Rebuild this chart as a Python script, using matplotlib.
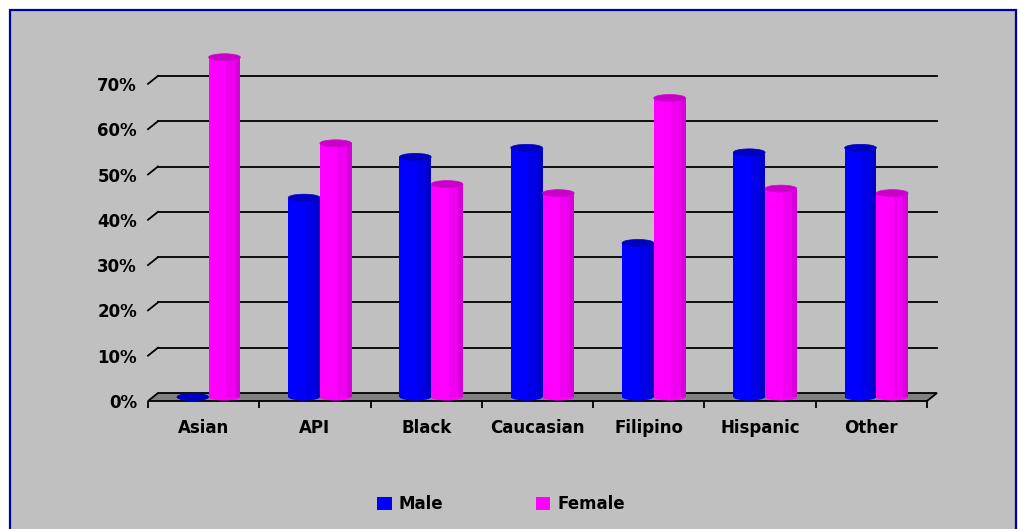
import numpy as np
import matplotlib
matplotlib.use('Agg')
import matplotlib.pyplot as plt
from matplotlib.patches import Rectangle, Ellipse, Polygon, Patch

groups = ['Asian', 'API', 'Black', 'Caucasian', 'Filipino', 'Hispanic', 'Other']
male = [0.00, 0.44, 0.53, 0.55, 0.34, 0.54, 0.55]
female = [0.75, 0.56, 0.47, 0.45, 0.66, 0.46, 0.45]
yticks = [0.0, 0.1, 0.2, 0.3, 0.4, 0.5, 0.6, 0.7]
ytick_labels = ['0%', '10%', '20%', '30%', '40%', '50%', '60%', '70%']

plt.rcParams['font.family'] = ['DejaVu Sans']
plt.rcParams['font.weight'] = 'bold'
FS = 12

W, H = 1018, 529
fig = plt.figure(figsize=(W / 100, H / 100), dpi=100)
fig.patch.set_facecolor('white')
# grey chart area with the dark blue frame
fig.patches.append(Rectangle((10 / W, -10 / H), 1006 / W, 529 / H,
                             transform=fig.transFigure, facecolor='#c0c0c0',
                             edgecolor='#0000a0', lw=1.6, zorder=-10))

px_per_unit_x = 779 / 7
px_per_unit_y = 453.0
ymax = 0.80
ax = fig.add_axes([148 / W, 128 / H, 779 / W, ymax * px_per_unit_y / H])
ax.set_facecolor('none')
ax.set_xlim(-0.5, 6.5)
ax.set_ylim(0, ymax)
for s in ax.spines.values():
    s.set_visible(False)

# depth of the fake 3d box, in data units
dx = 10 / px_per_unit_x
dy = 8 / px_per_unit_y

# back wall gridlines plus the little diagonal at the left edge
for v in yticks[1:]:
    ax.plot([-0.5 + dx, 6.5 + dx], [v + dy, v + dy], color='k', lw=1.3, zorder=1,
            clip_on=False)
    ax.plot([-0.5, -0.5 + dx], [v, v + dy], color='k', lw=1.3, zorder=1,
            clip_on=False)

# floor
ax.add_patch(Polygon([(-0.5, 0), (6.5, 0), (6.5 + dx, dy), (-0.5 + dx, dy)],
                     closed=True, facecolor='#808080', edgecolor='k', lw=1.3,
                     zorder=2, clip_on=False))

bw = 0.285
eh = 7 / px_per_unit_y
series = [
    (male, -bw / 2, ('#0000ff', '#0000e8', '#0000c8', '#0000c0')),
    (female, bw / 2, ('#ff00ff', '#f000f0', '#d800d8', '#c800c8')),
]
x = np.arange(len(groups))
base = dy / 2
z = 3
for i in range(len(groups)):
    for vals, off, (c_main, c_band, c_edge, c_top) in series:
        cx = x[i] + off + dx / 2
        v = vals[i]
        ax.add_patch(Ellipse((cx, base), bw, eh, facecolor=c_main, lw=0,
                             zorder=z, clip_on=False))
        ax.bar([cx], [v], bw, bottom=base, color=c_main, lw=0, zorder=z + 0.1,
               clip_on=False)
        ax.bar([cx + 0.2 * bw], [v], 0.3 * bw, bottom=base, color=c_band, lw=0,
               zorder=z + 0.2, clip_on=False)
        ax.bar([cx + 0.425 * bw], [v], 0.15 * bw, bottom=base, color=c_edge, lw=0,
               zorder=z + 0.3, clip_on=False)
        ax.add_patch(Ellipse((cx, base + v), bw, eh, facecolor=c_top,
                             edgecolor=c_edge, lw=0.5, zorder=z + 0.4,
                             clip_on=False))
        z += 1

ax.set_xticks(x)
ax.set_xticklabels(groups, fontsize=FS, fontweight='bold')
ax.set_xticks(np.arange(-0.5, 7, 1.0), minor=True)
ax.tick_params(axis='x', which='major', length=0, pad=13)
ax.tick_params(axis='x', which='minor', length=5, width=1.3, direction='out')
ax.set_yticks(yticks)
ax.set_yticklabels(ytick_labels, fontsize=FS, fontweight='bold')
ax.tick_params(axis='y', length=0, pad=8)

handles = [Patch(facecolor='#0000ff'), Patch(facecolor='#ff00ff')]
fig.legend(handles, ['Male', 'Female'], loc='center',
           bbox_to_anchor=(501 / W, 25 / H), ncol=2, frameon=False,
           handlelength=0.85, handleheight=0.85, handletextpad=0.4,
           columnspacing=5.6, prop={'size': FS, 'weight': 'bold'})

fig.savefig('out.png', dpi=100, facecolor=fig.get_facecolor())
